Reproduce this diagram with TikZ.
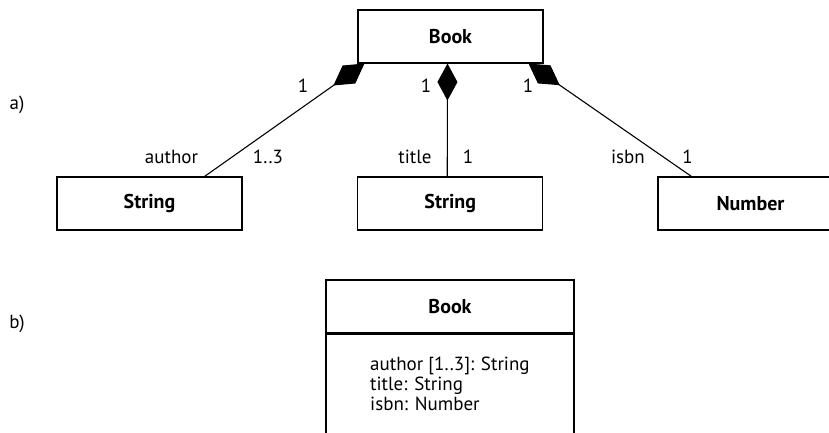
\documentclass[tikz,border=0pt]{standalone}
\usepackage{fontspec}
\setmainfont{PT Sans}
\usetikzlibrary{arrows.meta,calc}
\tikzset{
  cls/.style={draw, line width=1.1pt, minimum width=185, minimum height=53, inner sep=0pt, font=\fontsize{20}{22}\selectfont\bfseries, fill=white},
  comp/.style={draw, line width=1.1pt, -{Diamond[length=38pt,width=22pt]}},
  compv/.style={draw, line width=1.1pt, -{Diamond[length=37pt,width=20pt]}},
  lbl/.style={anchor=base, inner sep=0pt, font=\fontsize{19}{21}\selectfont},
  attr/.style={anchor=base west, inner sep=0pt, font=\fontsize{19}{21}\selectfont}
}
\begin{document}
\begin{tikzpicture}[x=1pt,y=1pt]
\useasboundingbox (0,0) rectangle (829,-433);
\clip (0,0) rectangle (829,-433);
% part a
\node[cls] (bookA) at (450.5,-36.5) {Book};
\node[cls] (s1) at (149.5,-203.5) {String};
\node[cls] (s2) at (450.25,-203.5) {String};
\node[cls] (num) at (750.5,-203.5) {Number};
\draw[comp] ($(s1.north east)+(-38,0)$) -- ($(bookA.south west)+(7,0)$);
\draw[compv] ($(s2.north)+(-3,0)$) -- ($(bookA.south)+(-3,0)$);
\draw[comp] ($(num.north west)+(34,0)$) -- ($(bookA.south east)+(-15,0)$);
\node[lbl] (m1) at (303,-93) {1};
\node[lbl] (m2) at (426,-93) {1};
\node[lbl] (m3) at (528,-93) {1};
\node[lbl] (r1) at (171.5,-163) {author};
\node[lbl] (n1) at (268,-163) {1..3};
\node[lbl] (r2) at (415,-163) {title};
\node[lbl] (n2) at (468,-163) {1};
\node[lbl] (r3) at (628,-163) {isbn};
\node[lbl] (n3) at (687.5,-163) {1};
\node[lbl] (la) at (17,-110) {a)};
% part b
\node[cls, minimum width=248] (hdrB) at (450,-306.5) {Book};
\node[draw, line width=1.1pt, minimum width=248, minimum height=160, anchor=north, inner sep=0pt] (bodyB) at (hdrB.south) {};
\node[attr] (at1) at (370,-370) {author [1..3]: String};
\node[attr] (at2) at (370,-390) {title: String};
\node[attr] (at3) at (370,-410) {isbn: Number};
\node[lbl] (lb) at (17,-328) {b)};
\end{tikzpicture}
\end{document}
